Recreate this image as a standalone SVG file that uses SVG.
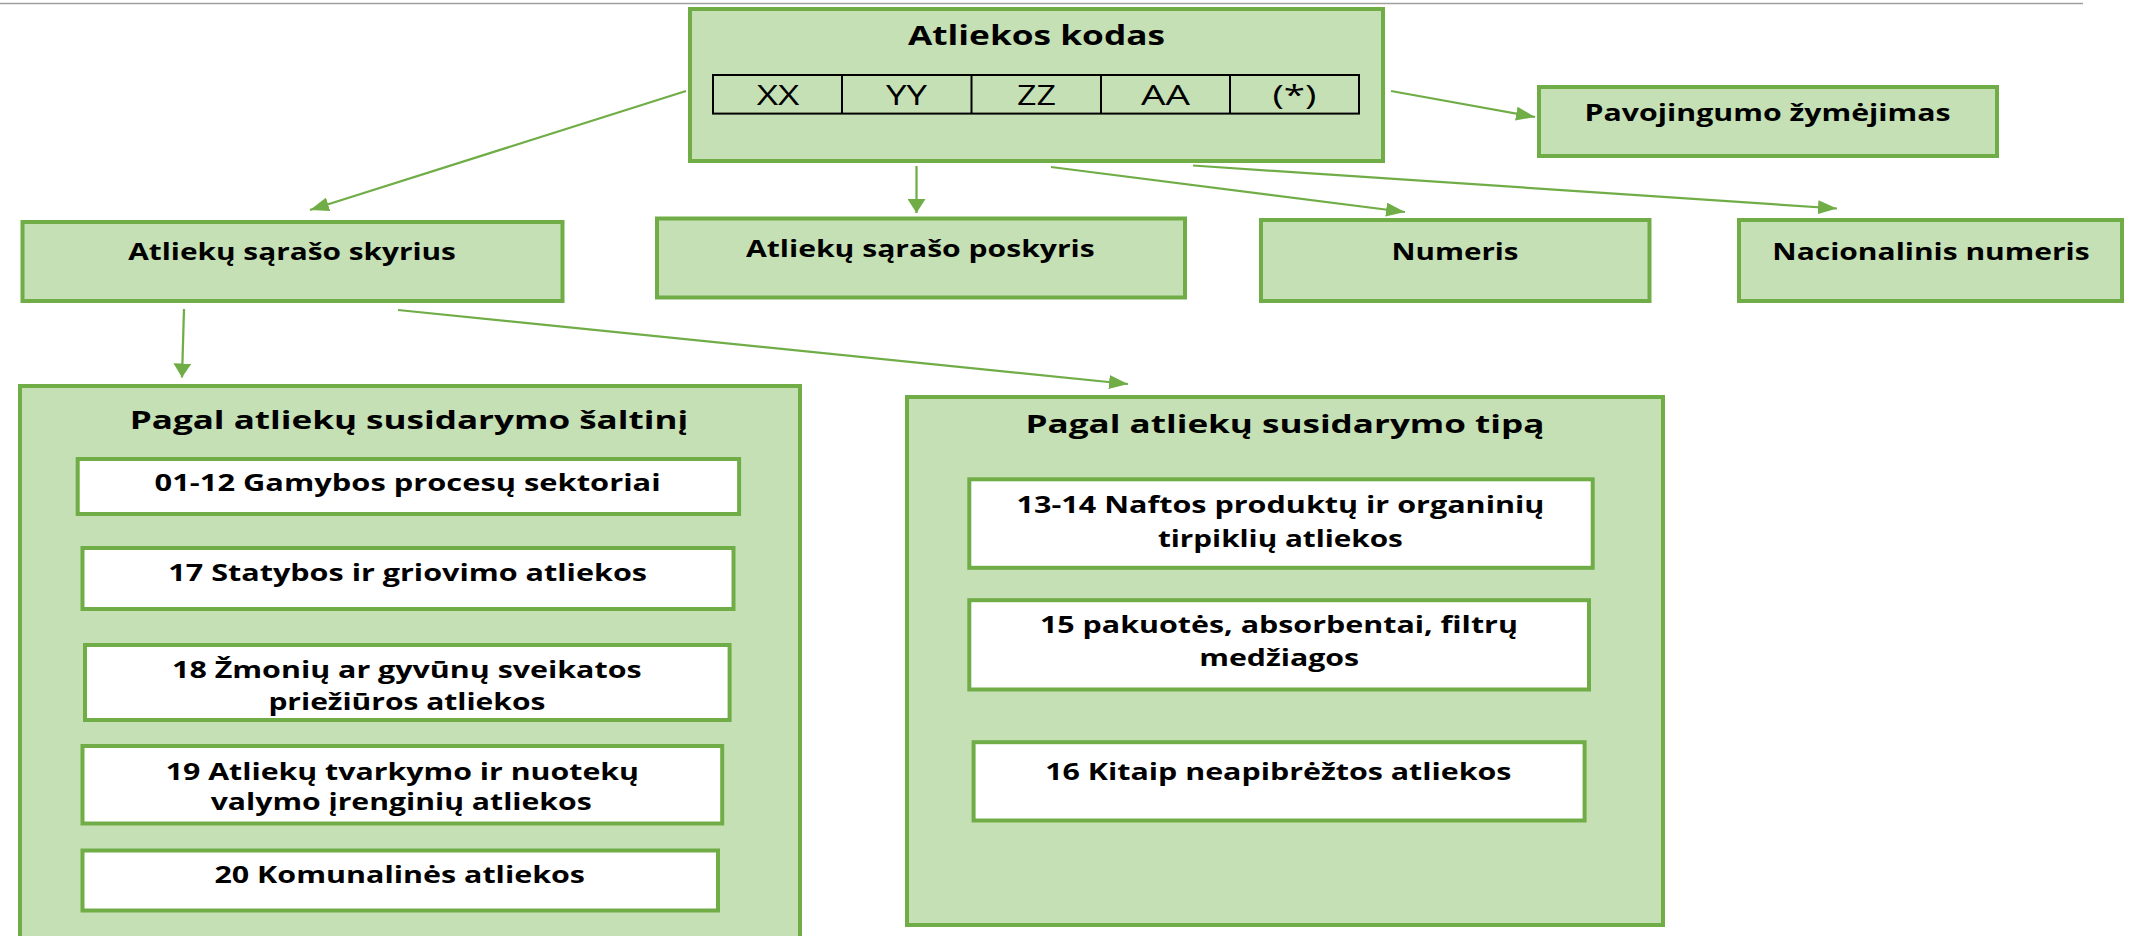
<svg xmlns="http://www.w3.org/2000/svg" width="2136" height="936" viewBox="0 0 2136 936">
<style>
.g{fill:#c5e0b4;stroke:#70ad47;stroke-width:4}
.w{fill:#ffffff;stroke:#70ad47;stroke-width:4}
.t{font-family:"Open Sans","Liberation Sans",sans-serif;font-weight:bold;fill:#000}
.c{font-family:"Open Sans","Liberation Sans",sans-serif;font-weight:normal;fill:#000;font-size:26.5px;text-anchor:middle}
.cn{stroke:#70ad47;stroke-width:2.25;fill:none;marker-end:url(#ah)}
.cv{stroke:#70ad47;stroke-width:2.25;fill:none;marker-end:url(#av)}
</style>
<defs>
<marker id="ah" markerUnits="userSpaceOnUse" markerWidth="19" markerHeight="14" refX="19" refY="7" orient="auto">
<path d="M0,0 L19,7 L0,14 z" fill="#70ad47"/>
</marker>
<marker id="av" markerUnits="userSpaceOnUse" markerWidth="14" markerHeight="18" refX="14" refY="9" orient="auto">
<path d="M0,0 L14,9 L0,18 z" fill="#70ad47"/>
</marker>
</defs>
<rect width="2136" height="936" fill="#ffffff"/>
<line x1="0" y1="3.5" x2="2083" y2="3.5" stroke="#a0a0a0" stroke-width="1.5"/>

<g id="connectors">
<line class="cn" x1="686" y1="91" x2="310" y2="210"/>
<line class="cv" x1="916.5" y1="166" x2="916.5" y2="213"/>
<line class="cn" x1="1051" y1="167" x2="1405" y2="212"/>
<line class="cn" x1="1193" y1="165.5" x2="1837" y2="208.5"/>
<line class="cn" x1="1391" y1="91" x2="1535" y2="117"/>
<line class="cv" x1="184" y1="309" x2="182" y2="377.5"/>
<line class="cn" x1="398" y1="310" x2="1128" y2="384"/>
</g>

<g id="atliekos-kodas">
<rect class="g" x="690" y="9" width="693" height="152"/>
<text class="t" x="908" y="45" font-size="26.5" textLength="257" lengthAdjust="spacingAndGlyphs">Atliekos kodas</text>
<g id="kodo-lentele">
<rect x="713" y="75" width="646" height="38.6" fill="none" stroke="#000" stroke-width="2"/>
<line x1="842" y1="75" x2="842" y2="113.6" stroke="#000" stroke-width="2"/>
<line x1="971.5" y1="75" x2="971.5" y2="113.6" stroke="#000" stroke-width="2"/>
<line x1="1101" y1="75" x2="1101" y2="113.6" stroke="#000" stroke-width="2"/>
<line x1="1230" y1="75" x2="1230" y2="113.6" stroke="#000" stroke-width="2"/>
<text class="c" x="778" y="105" textLength="42.6" lengthAdjust="spacingAndGlyphs">XX</text>
<text class="c" x="906.5" y="105" textLength="41" lengthAdjust="spacingAndGlyphs">YY</text>
<text class="c" x="1036.5" y="105" textLength="39" lengthAdjust="spacingAndGlyphs">ZZ</text>
<text class="c" x="1165.5" y="105" textLength="49" lengthAdjust="spacingAndGlyphs">AA</text>
<text class="c" x="1294.5" y="105" textLength="44" lengthAdjust="spacingAndGlyphs">(*)</text>
</g>
</g>

<g id="pavojingumo">
<rect class="g" x="1539" y="87" width="458" height="69"/>
<text class="t" x="1584.6" y="120.7" font-size="23" textLength="366" lengthAdjust="spacingAndGlyphs">Pavojingumo žymėjimas</text>
</g>

<g id="skyrius">
<rect class="g" x="22.5" y="222" width="540" height="79"/>
<text class="t" x="128.3" y="260" font-size="23.5" textLength="327.6" lengthAdjust="spacingAndGlyphs">Atliekų sąrašo skyrius</text>
</g>

<g id="poskyris">
<rect class="g" x="657" y="218.5" width="528" height="79"/>
<text class="t" x="746" y="257" font-size="23.5" textLength="348.7" lengthAdjust="spacingAndGlyphs">Atliekų sąrašo poskyris</text>
</g>

<g id="numeris">
<rect class="g" x="1261" y="220" width="388.5" height="81"/>
<text class="t" x="1391.5" y="259.5" font-size="23.5" textLength="127" lengthAdjust="spacingAndGlyphs">Numeris</text>
</g>

<g id="nacionalinis">
<rect class="g" x="1739" y="220" width="383" height="81"/>
<text class="t" x="1772.3" y="259.5" font-size="23.5" textLength="317.3" lengthAdjust="spacingAndGlyphs">Nacionalinis numeris</text>
</g>

<g id="saltinis">
<rect class="g" x="20" y="386" width="780" height="600"/>
<text class="t" x="129.7" y="428.5" font-size="25" textLength="558.5" lengthAdjust="spacingAndGlyphs">Pagal atliekų susidarymo šaltinį</text>
<g id="s01-12">
<rect class="w" x="77.7" y="459" width="661.4" height="55"/>
<text class="t" x="154.6" y="490.5" font-size="22.5" textLength="506" lengthAdjust="spacingAndGlyphs">01-12 Gamybos procesų sektoriai</text>
</g>
<g id="s17">
<rect class="w" x="82.5" y="548" width="651" height="61"/>
<text class="t" x="168.3" y="580.7" font-size="22.5" textLength="478.7" lengthAdjust="spacingAndGlyphs">17 Statybos ir griovimo atliekos</text>
</g>
<g id="s18">
<rect class="w" x="85" y="645" width="644.6" height="75"/>
<text class="t" x="172" y="678" font-size="22.5" textLength="469.6" lengthAdjust="spacingAndGlyphs">18 Žmonių ar gyvūnų sveikatos</text>
<text class="t" x="268.4" y="709.7" font-size="22.5" textLength="277" lengthAdjust="spacingAndGlyphs">priežiūros atliekos</text>
</g>
<g id="s19">
<rect class="w" x="82.5" y="746" width="639.7" height="77.5"/>
<text class="t" x="165.7" y="779.5" font-size="22.5" textLength="473.3" lengthAdjust="spacingAndGlyphs">19 Atliekų tvarkymo ir nuotekų</text>
<text class="t" x="210.7" y="810.3" font-size="22.5" textLength="381" lengthAdjust="spacingAndGlyphs">valymo įrenginių atliekos</text>
</g>
<g id="s20">
<rect class="w" x="82.5" y="850.5" width="635.5" height="60"/>
<text class="t" x="214.4" y="883.4" font-size="22.5" textLength="370.6" lengthAdjust="spacingAndGlyphs">20 Komunalinės atliekos</text>
</g>
</g>

<g id="tipas">
<rect class="g" x="907" y="397" width="756" height="528"/>
<text class="t" x="1025.6" y="433" font-size="25" textLength="518.8" lengthAdjust="spacingAndGlyphs">Pagal atliekų susidarymo tipą</text>
<g id="t13-14">
<rect class="w" x="969.3" y="479.3" width="623.4" height="88.5"/>
<text class="t" x="1016.6" y="513" font-size="22.5" textLength="527.8" lengthAdjust="spacingAndGlyphs">13-14 Naftos produktų ir organinių</text>
<text class="t" x="1157.9" y="546.6" font-size="22.5" textLength="245" lengthAdjust="spacingAndGlyphs">tirpiklių atliekos</text>
</g>
<g id="t15">
<rect class="w" x="969.3" y="600.2" width="619.7" height="89.3"/>
<text class="t" x="1039.9" y="632.7" font-size="22.5" textLength="478" lengthAdjust="spacingAndGlyphs">15 pakuotės, absorbentai, filtrų</text>
<text class="t" x="1199.2" y="666.3" font-size="22.5" textLength="160" lengthAdjust="spacingAndGlyphs">medžiagos</text>
</g>
<g id="t16">
<rect class="w" x="973.6" y="742.2" width="611" height="78.3"/>
<text class="t" x="1045.2" y="780" font-size="22.5" textLength="466.3" lengthAdjust="spacingAndGlyphs">16 Kitaip neapibrėžtos atliekos</text>
</g>
</g>
</svg>
